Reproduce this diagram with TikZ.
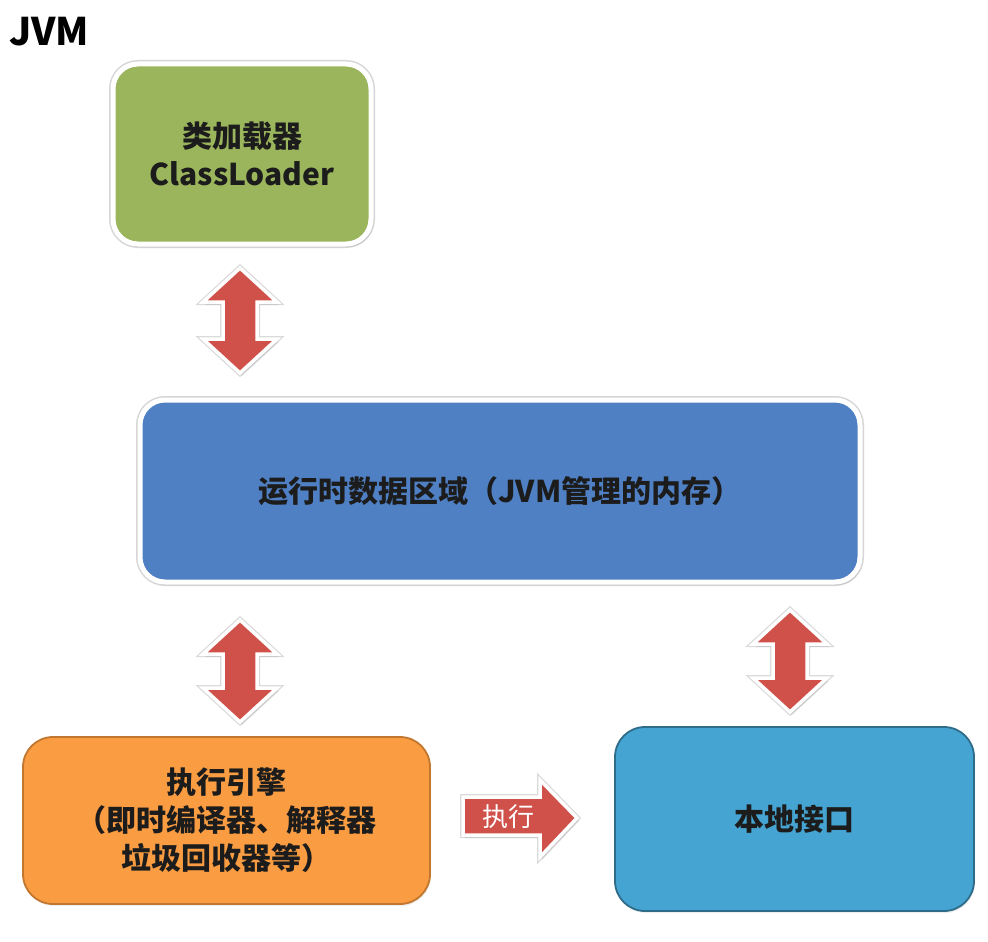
\documentclass[tikz,border=0pt]{standalone}
\usepackage{fontspec}
\setmainfont{Noto Sans CJK SC}
\usetikzlibrary{shadows}
\definecolor{cgreen}{HTML}{9BB55C}
\definecolor{cblue}{HTML}{4F80C4}
\definecolor{corange}{HTML}{F99C42}
\definecolor{corangeb}{HTML}{C2772F}
\definecolor{ccyan}{HTML}{45A4D1}
\definecolor{ccyanb}{HTML}{2E6C8A}
\definecolor{cred}{HTML}{D0514A}
\definecolor{ctext}{HTML}{1C1C1C}
\tikzset{
  box/.style={rounded corners=25pt, align=center, text=ctext,
    font=\fontsize{30}{38}\selectfont\bfseries, inner sep=0pt},
  whitebox/.style={box, draw=white, line width=5pt,
    preaction={draw=black!16, line width=8pt},
    drop shadow={opacity=0.18, shadow xshift=2pt, shadow yshift=-3pt}},
  linebox/.style={box, line width=1.8pt, rounded corners=30pt,
    drop shadow={opacity=0.12, shadow xshift=1pt, shadow yshift=-2pt}},
  blockarrow/.style={fill=cred, draw=white, line width=3.5pt, line join=miter,
    preaction={draw=black!14, line width=6pt, line join=miter},
    drop shadow={opacity=0.18, shadow xshift=2pt, shadow yshift=-3pt}}
}
\newcommand\DblArr[3]{%
  \path[blockarrow] (#1,#2) -- ({#1+37},{#2+34}) -- ({#1+17},{#2+34})
    -- ({#1+17},{#3-34}) -- ({#1+37},{#3-34}) -- (#1,#3)
    -- ({#1-37},{#3-34}) -- ({#1-17},{#3-34}) -- ({#1-17},{#2+34})
    -- ({#1-37},{#2+34}) -- cycle;}
\begin{document}
\begin{tikzpicture}[x=1pt, y=-1pt]
\useasboundingbox[fill=white] (0,0) rectangle (988,942);
\node[anchor=west, font=\fontsize{38}{38}\selectfont\bfseries, text=black, inner sep=0pt] (title) at (9,32) {JVM};

\node[whitebox, fill=cgreen, minimum width=258pt, minimum height=180pt] (cl) at (242,154) {类加载器\\ClassLoader};
\node[whitebox, fill=cblue, minimum width=720pt, minimum height=182pt] (rt) at (500,491) {运行时数据区域（JVM管理的内存）};
\node[linebox, fill=corange, draw=corangeb, minimum width=407pt, minimum height=167pt] (ee) at (226.5,820.5) {执行引擎\\（即时编译器、解释器\\垃圾回收器等）};
\node[linebox, fill=ccyan, draw=ccyanb, minimum width=359pt, minimum height=184pt] (ni) at (794.5,819) {本地接口};

\DblArr{240}{268}{373}
\DblArr{240}{620}{722}
\DblArr{790}{610}{712}

\path[blockarrow] (463,797) -- (540,797) -- (540,780) -- (577,818) -- (540,857) -- (540,835) -- (463,835) -- cycle;
\node[text=white, font=\fontsize{26}{26}\selectfont, inner sep=0pt] (exe) at (508,817) {执行};
\end{tikzpicture}
\end{document}
